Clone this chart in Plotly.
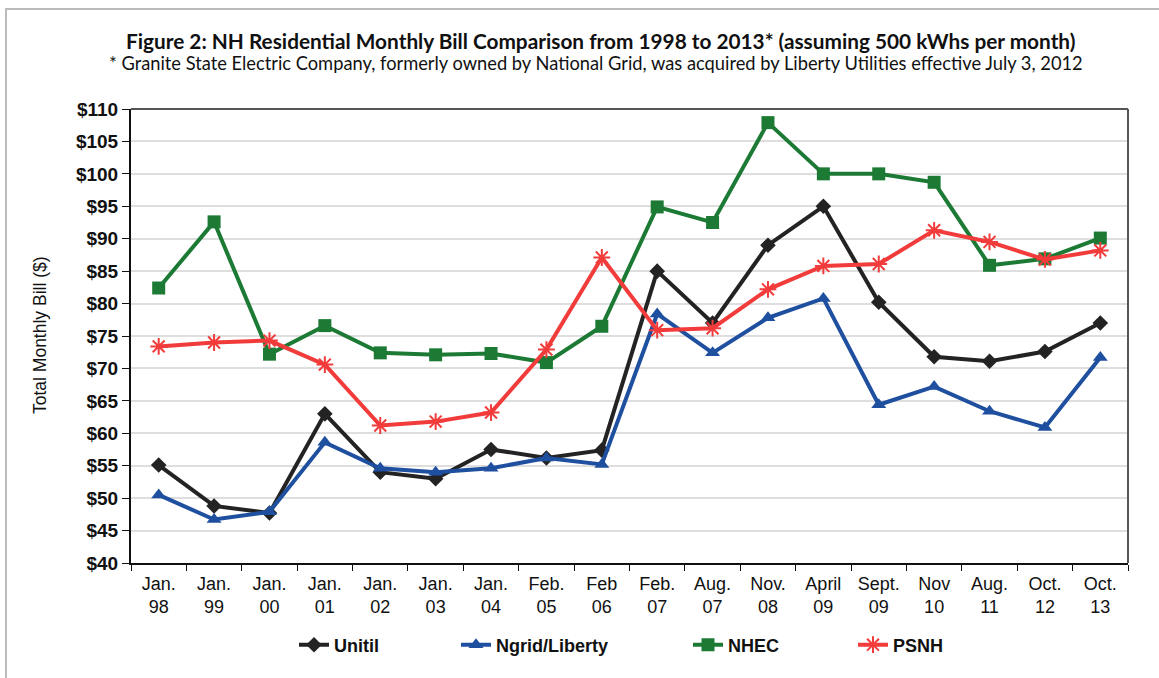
import plotly.graph_objects as go

categories = ["Jan.<br>98", "Jan.<br>99", "Jan.<br>00", "Jan.<br>01", "Jan.<br>02", "Jan.<br>03",
              "Jan.<br>04", "Feb.<br>05", "Feb<br>06", "Feb.<br>07", "Aug.<br>07", "Nov.<br>08",
              "April<br>09", "Sept.<br>09", "Nov<br>10", "Aug.<br>11", "Oct.<br>12", "Oct.<br>13"]

unitil = [55.1, 48.8, 47.7, 63.0, 54.0, 53.0, 57.5, 56.2, 57.4, 85.0, 77.0, 89.0, 95.0, 80.2, 71.8, 71.1, 72.6, 77.0]
ngrid_liberty = [50.5, 46.7, 47.9, 58.6, 54.6, 54.0, 54.6, 56.2, 55.2, 78.4, 72.4, 77.8, 80.8, 64.4, 67.2, 63.4, 60.9, 71.7]
nhec = [82.4, 92.6, 72.2, 76.6, 72.4, 72.1, 72.3, 70.9, 76.5, 94.9, 92.5, 107.9, 100.0, 100.0, 98.7, 85.9, 86.9, 90.1]
psnh = [73.4, 74.0, 74.3, 70.6, 61.2, 61.8, 63.2, 72.9, 87.1, 75.9, 76.2, 82.2, 85.8, 86.1, 91.3, 89.5, 86.8, 88.2]

y_ticks = list(range(40, 111, 5))
y_tick_text = [f"${v}" for v in y_ticks]

L, R, T, B = 131, 31, 109, 115
W, H = 1159, 678
PW = W - L - R
PH = H - T - B


def px_x(px):
    return (px - L) / PW


def px_y(py):
    return (H - B - py) / PH


series = [
    ("Unitil", unitil, "#232323", "diamond", 12, "legend", 334),
    ("Ngrid/Liberty", ngrid_liberty, "#1f4f9f", "triangle-up", 13, "legend2", 496),
    ("NHEC", nhec, "#1c7a35", "square", 13, "legend3", 728),
    ("PSNH", psnh, "#f23b3b", "asterisk-open", 14, "legend4", 893),
]

fig = go.Figure()
legend_layouts = {}
for name, vals, color, sym, sz, leg, text_x in series:
    marker = dict(symbol=sym, size=sz, color=color)
    if sym == "asterisk-open":
        marker["line"] = dict(color=color, width=2)
    fig.add_trace(go.Scatter(
        x=categories, y=vals, name=name, mode="lines+markers",
        line=dict(color=color, width=4), marker=marker, legend=leg,
    ))
    legend_layouts[leg] = dict(
        orientation="h", x=px_x(text_x - 40), xanchor="left", y=px_y(645), yanchor="middle",
        font=dict(size=18, family="Liberation Sans, Arial", color="#111", weight="bold"),
        bgcolor="rgba(0,0,0,0)", borderwidth=0,
    )

fig.update_layout(
    width=W, height=H,
    margin=dict(l=L, r=R, t=T, b=B),
    paper_bgcolor="white", plot_bgcolor="white",
    font=dict(family="Liberation Sans, Arial", color="#111"),
    showlegend=True,
    **legend_layouts,
)
fig.update_xaxes(
    type="category", range=[-0.5, 17.5], tickson="boundaries", ticks="outside", ticklen=6, tickcolor="#111",
    showline=True, linecolor="#111", linewidth=2, showgrid=False, ticklabelstandoff=3,
    tickfont=dict(size=18, family="Liberation Sans, Arial", color="#111"), tickangle=0,
)
fig.update_yaxes(
    range=[40, 110], tickvals=y_ticks, ticktext=y_tick_text, ticks="outside", ticklen=7,
    tickcolor="#111", showline=True, linecolor="#111", linewidth=2,
    showgrid=True, gridcolor="#dedede", gridwidth=1.5, zeroline=False,
    tickfont=dict(size=19, family="Liberation Sans, Arial", color="#111", weight="bold"),
)

# plot border (top / right)
fig.add_shape(type="line", xref="paper", yref="paper", x0=0, x1=1, y0=1, y1=1,
              line=dict(color="#555", width=2))
fig.add_shape(type="line", xref="paper", yref="paper", x0=1, x1=1, y0=0, y1=1,
              line=dict(color="#555", width=2))
# outer frame (left / top)
fig.add_shape(type="line", xref="paper", yref="paper", x0=px_x(6), x1=px_x(6), y0=px_y(H), y1=px_y(8),
              line=dict(color="#bbb", width=2))
fig.add_shape(type="line", xref="paper", yref="paper", x0=px_x(6), x1=px_x(W + 5), y0=px_y(9), y1=px_y(9),
              line=dict(color="#bbb", width=2))

fig.add_annotation(text="<b>Figure 2: NH Residential Monthly Bill Comparison from 1998 to 2013* (assuming 500 kWhs per month)</b>",
                   xref="paper", yref="paper", x=px_x(600), y=px_y(40), xanchor="center", yanchor="middle",
                   showarrow=False, font=dict(family="Lato", size=20.8, color="#111"))
fig.add_annotation(text="* Granite State Electric Company, formerly owned by National Grid, was acquired by Liberty Utilities effective July 3, 2012",
                   xref="paper", yref="paper", x=px_x(596), y=px_y(63), xanchor="center", yanchor="middle",
                   showarrow=False, font=dict(family="Lato", size=18.3, color="#111"))
fig.add_annotation(text="Total Monthly Bill ($)", textangle=-90,
                   xref="paper", yref="paper", x=px_x(40), y=px_y(335), xanchor="center", yanchor="middle",
                   showarrow=False, font=dict(family="Liberation Sans, Arial", size=17.5, color="#111"))

fig.write_html("out.html")
